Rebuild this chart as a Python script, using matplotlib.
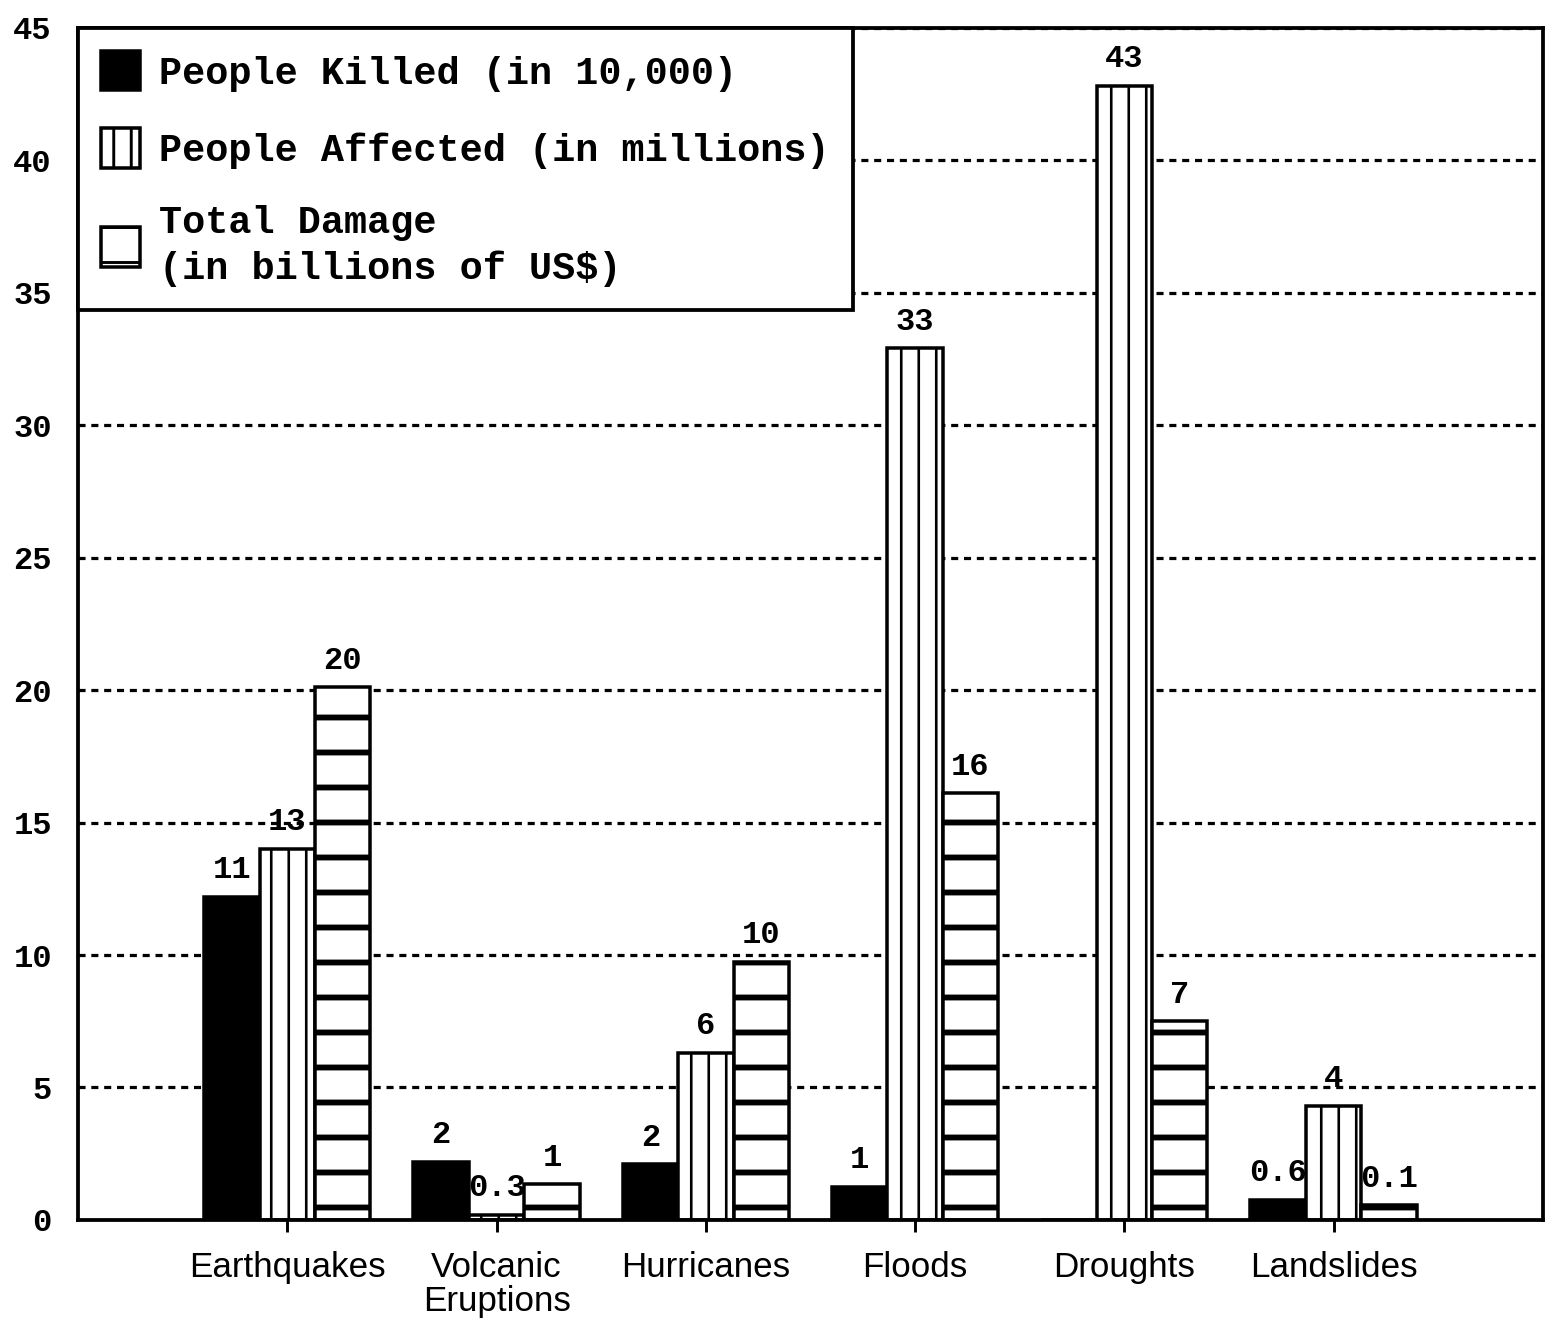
import matplotlib
matplotlib.use("Agg")
import matplotlib.pyplot as plt
import numpy as np

categories = ["Earthquakes", "Volcanic\nEruptions", "Hurricanes", "Floods", "Droughts", "Landslides"]
killed = [12.2, 2.2, 2.1, 1.25, 0.0, 0.75]
affected = [14.0, 0.2, 6.3, 32.9, 42.8, 4.3]
damage = [20.1, 1.35, 9.75, 16.1, 7.5, 0.55]
killed_labels = ["11", "2", "2", "1", "", "0.6"]
affected_labels = ["13", "0.3", "6", "33", "43", "4"]
damage_labels = ["20", "1", "10", "16", "7", "0.1"]
series_names = ["People Killed (in 10,000)", "People Affected (in millions)",
                "Total Damage\n(in billions of US$)"]
yticks = [0, 5, 10, 15, 20, 25, 30, 35, 40, 45]

DPI = 210
fig = plt.figure(figsize=(1549 / DPI, 1323 / DPI), dpi=DPI)
ax = fig.add_axes([0.0504, 0.0779, 0.9456, 0.9011])

x = np.arange(len(categories))
w = 0.265
MONO = "Liberation Mono"

with plt.rc_context({"hatch.linewidth": 0.9}):
    b1 = ax.bar(x - w, killed, w, color="black", edgecolor="black", linewidth=1.2,
                label=series_names[0], zorder=2)
    b2 = ax.bar(x, affected, w, color="white", edgecolor="black", linewidth=1.2,
                hatch="||", label=series_names[1], zorder=2)
with plt.rc_context({"hatch.linewidth": 2.0}):
    b3 = ax.bar(x + w, damage, w, color="white", edgecolor="black", linewidth=1.2,
                hatch="-", label=series_names[2], zorder=2)

for bars, labs in [(b1, killed_labels), (b2, affected_labels), (b3, damage_labels)]:
    ax.bar_label(bars, labels=labs, padding=4, fontsize=11, fontfamily=MONO,
                 fontweight="bold")

ax.set_xlim(-1, 6)
ax.set_ylim(0, 45)
ax.set_yticks(yticks)
ax.set_yticklabels([str(v) for v in yticks], fontfamily=MONO, fontweight="bold",
                   fontsize=11)
ax.set_xticks(x)
ax.set_xticklabels(categories, fontfamily="Liberation Sans", fontsize=12,
                   linespacing=1.05)
ax.tick_params(axis="y", length=0, pad=9)
ax.tick_params(axis="x", length=4, width=1.0, direction="out", pad=6.5)

ax.set_axisbelow(True)
ax.yaxis.grid(True, color="black", linestyle=(0, (2.2, 1.8)), linewidth=1.1)
for s in ax.spines.values():
    s.set_linewidth(1.3)

leg = ax.legend(loc="upper left", bbox_to_anchor=(0, 1), borderaxespad=0,
                fancybox=False, framealpha=1, edgecolor="black",
                prop={"family": MONO, "weight": "bold", "size": 13.2},
                handlelength=1.0, handleheight=1.2, handletextpad=0.5,
                labelspacing=0.95, borderpad=0.6)
leg.get_frame().set_linewidth(1.3)
leg.get_texts()[2].set_linespacing(1.3)
leg.set_zorder(5)

fig.savefig("out.png", dpi=DPI)
